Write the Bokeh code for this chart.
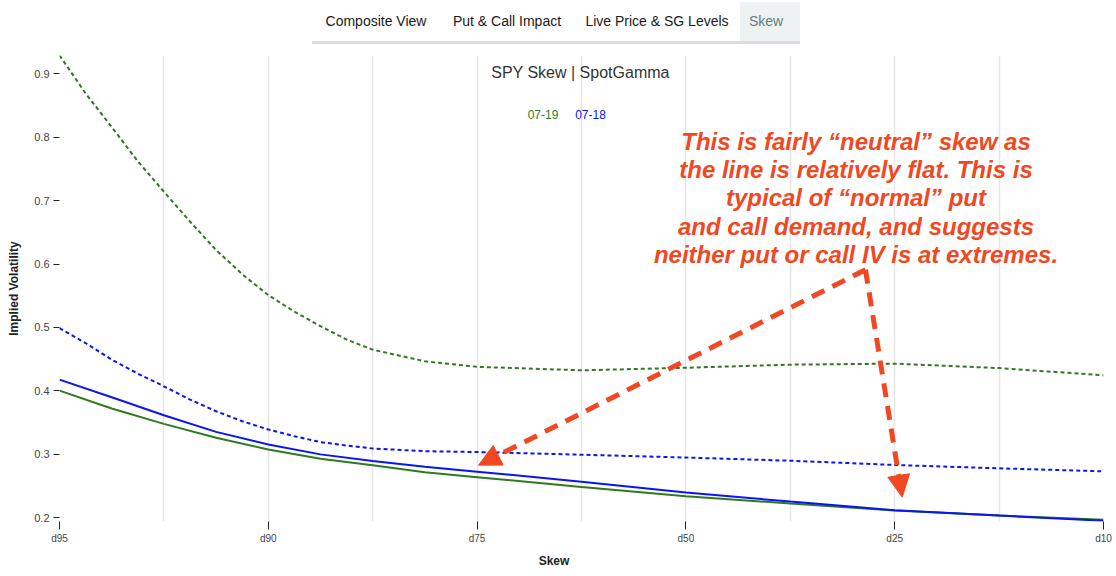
from bokeh.plotting import figure
from bokeh.layouts import column
from bokeh.models import Label, Arrow, NormalHead, FixedTicker, Range1d, Div
from bokeh.embed import file_html
from bokeh.resources import INLINE

# ---------------- data ----------------
skew_labels = ["d95", "d90", "d75", "d50", "d25", "d10"]
skew_pos = [0, 1, 2, 3, 4, 5]

# sample positions (in units of the skew axis) for the dotted and solid curves
x_dotted = [0, 0.125, 0.25, 0.375, 0.5, 0.625, 0.75, 0.875, 1, 1.125, 1.25, 1.375,
            1.5, 1.75, 2, 2.5, 3, 3.5, 4, 4.5, 5]
x_solid = [0, 0.25, 0.5, 0.75, 1, 1.25, 1.5, 1.75, 2, 2.5, 3, 3.5, 4, 4.5, 5]

iv_0719_dotted = [0.929, 0.869, 0.816, 0.762, 0.714, 0.667, 0.622, 0.584, 0.551,
                  0.525, 0.502, 0.481, 0.465, 0.4467, 0.438, 0.4325, 0.4365,
                  0.4414, 0.443, 0.436, 0.4246]
iv_0718_dotted = [0.499, 0.4755, 0.4493, 0.4273, 0.4073, 0.3864, 0.368, 0.3523,
                  0.3392, 0.3287, 0.3193, 0.314, 0.3093, 0.305, 0.3037, 0.2995,
                  0.2950, 0.2900, 0.2833, 0.278, 0.2733]
iv_0718_solid = [0.4178, 0.390, 0.3617, 0.3355, 0.3156, 0.300, 0.2894, 0.2805,
                 0.2728, 0.257, 0.2398, 0.2256, 0.212, 0.2036, 0.1953]
iv_0719_solid = [0.4005, 0.3722, 0.3481, 0.3261, 0.3077, 0.293, 0.283, 0.2718,
                 0.264, 0.2487, 0.234, 0.2225, 0.2115, 0.2036, 0.1969]

y_ticks = [0.2, 0.3, 0.4, 0.5, 0.6, 0.7, 0.8, 0.9]
grid_pos = [0, 0.5, 1, 1.5, 2, 2.5, 3, 3.5, 4, 4.5, 5]

tabs = ["Composite View", "Put & Call Impact", "Live Price & SG Levels", "Skew"]
series_names = ["07-19", "07-18"]
note_lines = ["This is fairly \u201cneutral\u201d skew as",
              "the line is relatively flat. This is",
              "typical of \u201cnormal\u201d put",
              "and call demand, and suggests",
              "neither put or call IV is at extremes."]

GREEN = "#2f7a1f"
BLUE = "#0a14f5"
RED = "#ef4823"
FONT = "Liberation Sans"

# page geometry (px)
W = 1116
TAB_H = 44
BOTTOM_H = 30
FIG_H = 576 - TAB_H - BOTTOM_H
F_LEFT, F_RIGHT = 59, 1103
F_TOP, F_BOTTOM = 55, 523          # in page coordinates


def sx(cx):
    return cx - F_LEFT


def sy(cy):
    return F_BOTTOM - cy


# ---------------- tab strip ----------------
tab_centres = [376, 507, 657, 766]
tab_html = ['<div style="position:relative;width:%dpx;height:%dpx;font-family:\'%s\',Arial,sans-serif;">'
            % (W, TAB_H, FONT),
            '<div style="position:absolute;left:312px;top:41px;width:488px;height:3px;background:#dcdcdc;"></div>',
            '<div style="position:absolute;left:740px;top:2px;width:60px;height:39px;background:#eef2f2;"></div>']
for t, cx in zip(tabs, tab_centres):
    col = "#5f7f7c" if t == "Skew" else "#1a1a1a"
    tab_html.append('<div style="position:absolute;left:%dpx;top:2px;width:200px;height:39px;'
                    'line-height:39px;text-align:center;font-size:14px;color:%s;white-space:nowrap;">%s</div>'
                    % (cx - 100, col, t.replace("&", "&amp;")))
tab_html.append('</div>')
tab_div = Div(text="".join(tab_html), width=W, height=TAB_H, margin=0)

# ---------------- figure ----------------
p = figure(width=W, height=FIG_H, output_backend="svg", toolbar_location=None,
           x_range=Range1d(0, 5), y_range=Range1d(0.1942, 0.9287),
           min_border_left=F_LEFT, min_border_right=W - F_RIGHT,
           min_border_top=F_TOP - TAB_H, min_border_bottom=TAB_H + FIG_H - F_BOTTOM,
           margin=0)
p.outline_line_color = None
p.background_fill_color = "white"
p.border_fill_color = "white"

p.ygrid.visible = False
p.xgrid.ticker = FixedTicker(ticks=grid_pos)
p.xgrid.grid_line_color = "#e6e6e6"
p.xgrid.grid_line_width = 1.5

xa = p.xaxis[0]
xa.ticker = FixedTicker(ticks=skew_pos)
xa.major_label_overrides = {k: v for k, v in zip(skew_pos, skew_labels)}
xa.axis_line_color = None
xa.major_tick_line_color = "#222222"
xa.major_tick_in = 0
xa.major_tick_out = 8
xa.minor_tick_line_color = None
xa.major_label_text_font = FONT
xa.major_label_text_font_size = "10px"
xa.major_label_text_color = "#444444"
xa.major_label_standoff = 3

ya = p.yaxis[0]
ya.ticker = FixedTicker(ticks=y_ticks)
ya.axis_line_color = None
ya.major_tick_line_color = "#222222"
ya.major_tick_in = 0
ya.major_tick_out = 6
ya.minor_tick_line_color = None
ya.major_label_text_font = FONT
ya.major_label_text_font_size = "11px"
ya.major_label_text_color = "#444444"
ya.major_label_standoff = 4
ya.axis_label = "Implied Volatility"
ya.axis_label_text_font = FONT
ya.axis_label_text_font_size = "12px"
ya.axis_label_text_font_style = "bold"
ya.axis_label_text_color = "#222222"
ya.axis_label_standoff = 10

p.line(x_dotted, iv_0719_dotted, line_color=GREEN, line_width=2, line_dash="4 3")
p.line(x_dotted, iv_0718_dotted, line_color=BLUE, line_width=2, line_dash="4 3")
p.line(x_solid, iv_0719_solid, line_color=GREEN, line_width=2)
p.line(x_solid, iv_0718_solid, line_color=BLUE, line_width=2)

# chart title
p.add_layout(Label(x=sx(580), y=sy(74), x_units="screen", y_units="screen",
                   text="SPY Skew | SpotGamma", text_font=FONT, text_font_size="16px",
                   text_color="#333333", text_align="center", text_baseline="middle"))

# legend (text only)
for name, col, cx in zip(series_names, [GREEN, BLUE], [542.5, 590]):
    p.add_layout(Label(x=sx(cx), y=sy(116), x_units="screen", y_units="screen",
                       text=name, text_font=FONT, text_font_size="12px",
                       text_color=col, text_align="center", text_baseline="middle"))

# annotation text
for i, line in enumerate(note_lines):
    p.add_layout(Label(x=sx(855.5), y=sy(143 + i * 28.2), x_units="screen", y_units="screen",
                       text=line, text_font=FONT, text_font_size="24px",
                       text_font_style="bold italic", text_color=RED,
                       text_align="center", text_baseline="middle"))

# annotation arrows from a shared vertex
vertex = (3.86, 0.591)
targets = [(2.007, 0.283), (4.036, 0.2325)]
for tx, ty in targets:
    p.add_layout(Arrow(end=NormalHead(size=22, fill_color=RED, line_color=RED, line_width=1),
                       x_start=vertex[0], y_start=vertex[1], x_end=tx, y_end=ty,
                       line_color=RED, line_width=5, line_dash="14 9"))

# ---------------- x-axis title strip ----------------
skew_div = Div(text='<div style="position:relative;width:%dpx;height:%dpx;">'
                    '<div style="position:absolute;left:454px;top:0px;width:200px;height:%dpx;'
                    'line-height:%dpx;text-align:center;font-family:\'%s\',Arial,sans-serif;'
                    'font-size:12px;font-weight:bold;color:#222222;">Skew</div></div>'
                    % (W, BOTTOM_H, BOTTOM_H, BOTTOM_H, FONT),
               width=W, height=BOTTOM_H, margin=0)

layout = column(tab_div, p, skew_div, spacing=0, margin=0)
open("out.html", "w").write(file_html(layout, INLINE))
